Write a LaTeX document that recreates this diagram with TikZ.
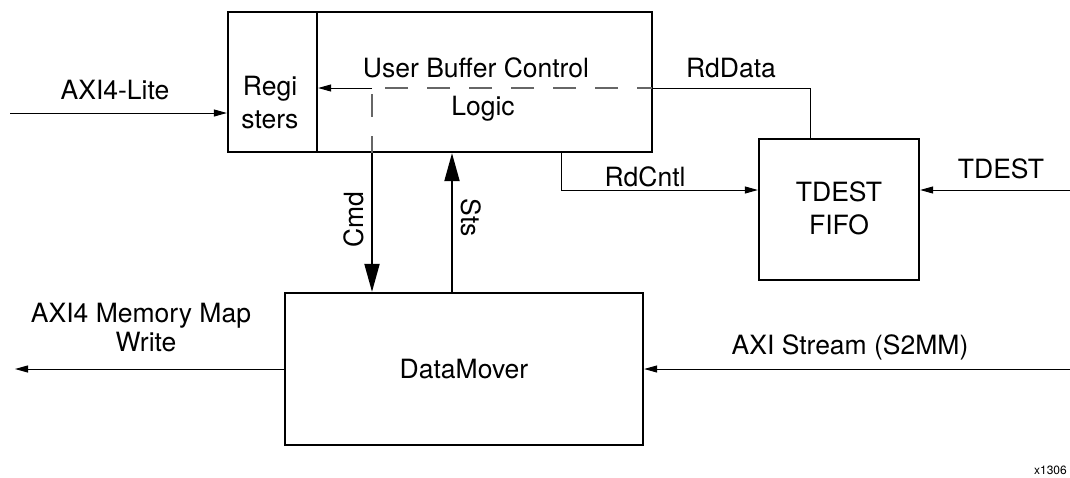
\documentclass[tikz,border=0pt]{standalone}
\usepackage{fontspec}
\setmainfont{TeX Gyre Heros}
\usetikzlibrary{arrows.meta}
\begin{document}
\begin{tikzpicture}[x=1pt,y=-1pt,
  blk/.style={draw, line width=2.3pt, inner sep=0pt, rectangle},
  txt/.style={font=\fontsize{26.5}{32}\selectfont, inner sep=0pt, anchor=base},
  sig/.style={line width=1pt, -{Triangle[length=13pt,width=7pt]}},
  bus/.style={line width=2pt, -{Triangle[length=28pt,width=15pt]}},
  wire/.style={line width=1pt},
  via/.style={line width=1.3pt, draw=black!60, dash pattern=on 23pt off 19pt, dash phase=8pt},
]
\useasboundingbox (0,0) rectangle (1070,477);

% blocks
\node[blk, minimum width=89pt, minimum height=140pt] (regs) at (272.5,82) {};
\node[blk, minimum width=335pt, minimum height=140pt] (ubc) at (484.5,82) {};
\node[blk, minimum width=160pt, minimum height=141pt] (fifo) at (839,209.5) {};
\node[blk, minimum width=358pt, minimum height=152pt, font=\fontsize{26.5}{32}\selectfont] (dm) at (464,369) {DataMover};

% block texts
\node[txt] (regsA) at (270,95) {Regi};
\node[txt] (regsB) at (270,128) {sters};
\node[txt] (ubcA) at (476,77) {User Buffer Control};
\node[txt] (ubcB) at (483,115) {Logic};
\node[txt] (fifoA) at (839,201) {TDEST};
\node[txt] (fifoB) at (839,234) {FIFO};

% connection points
\coordinate (liteIn) at (10,113);
\coordinate (rdTap) at (810,88);
\coordinate (split) at (372,88);
\coordinate (stsX) at (452,0);
\coordinate (cntl) at (561,190);
\coordinate (tdestIn) at (1070,190);
\coordinate (s2mmIn) at (1070,369);
\coordinate (mmOut) at (15,369);

% connectors
\draw[sig] (liteIn) -- (liteIn -| regs.west);
\draw[wire] (fifo.north -| rdTap) -- (rdTap) -- (ubc.east |- rdTap);
\draw[via] (652,88) -- (split) -- (split |- ubc.south);
\draw[sig] (split) -- (regs.east |- split);
\draw[bus] (split |- ubc.south) -- (split |- dm.north);
\draw[bus] (stsX |- dm.north) -- (stsX |- ubc.south);
\draw[sig] (cntl |- ubc.south) -- (cntl) -- (fifo.west |- cntl);
\draw[sig] (tdestIn) -- (fifo.east |- tdestIn);
\draw[sig] (s2mmIn) -- (dm.east |- s2mmIn);
\draw[sig] (dm.west |- mmOut) -- (mmOut);

% connector labels
\node[txt] (liteLbl) at (115,99) {AXI4-Lite};
\node[txt] (rdDataLbl) at (731,77) {RdData};
\node[txt] (rdCntlLbl) at (645,186) {RdCntl};
\node[txt] (tdestLbl) at (1001,178) {TDEST};
\node[txt, rotate=90] (cmdLbl) at (363,220) {Cmd};
\node[txt, rotate=-90] (stsLbl) at (461,218) {Sts};
\node[txt] (mmLblA) at (141,322) {AXI4 Memory Map};
\node[txt] (mmLblB) at (146,351) {Write};
\node[txt] (s2mmLbl) at (850,354) {AXI Stream (S2MM)};
\node[font=\fontsize{12}{14}\selectfont, inner sep=0pt, anchor=base east] (figId) at (1067,474) {x1306};
\end{tikzpicture}
\end{document}
